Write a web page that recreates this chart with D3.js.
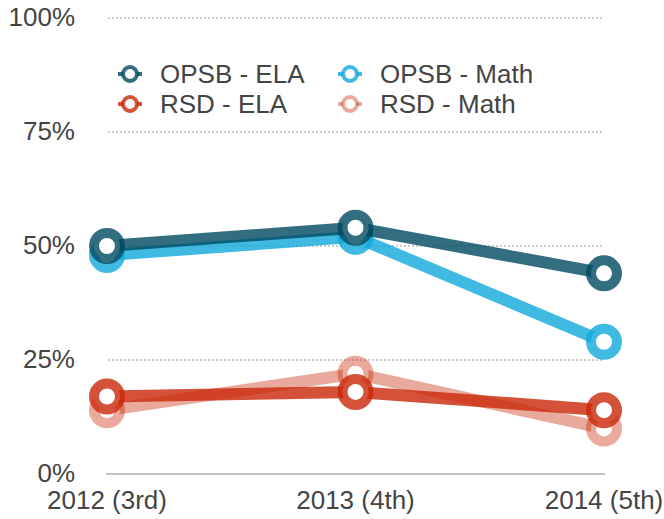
<!DOCTYPE html>
<html>
<head>
<meta charset="utf-8">
<script src="https://cdn.jsdelivr.net/npm/d3@7"></script>
<style>
  body { margin: 0; background: #fff; }
  svg text { font-family: "Helvetica Neue", Helvetica, "Liberation Sans", Arial, sans-serif; fill: #444; font-size: 26px; }
</style>
</head>
<body>
<script>
const width = 664,
	height = 519

// data
const years = ["2012 (3rd)", "2013 (4th)", "2014 (5th)"]
const yTicks = [0, 25, 50, 75, 100]
const opsbEla = [50, 54, 44]
const opsbMath = [48, 52, 29]
const rsdEla = [17, 18, 14]
const rsdMath = [14, 22, 10]

const series = [
	{ name: "RSD - Math", values: rsdMath, color: "#c92707", opacity: 0.4 },
	{ name: "RSD - ELA", values: rsdEla, color: "#c92707", opacity: 0.8 },
	{ name: "OPSB - Math", values: opsbMath, color: "#10a9dc", opacity: 0.8 },
	{ name: "OPSB - ELA", values: opsbEla, color: "#004a60", opacity: 0.8 }
]
const legendOrder = ["OPSB - ELA", "OPSB - Math", "RSD - ELA", "RSD - Math"]

const x = d3.scalePoint().domain(years).range([107, 604])
const y = d3.scaleLinear().domain([0, 100]).range([474, 18])

const svg = d3.select("body")
	.append("svg")
	.attr("width", width)
	.attr("height", height)

// gridlines
svg.append("g")
	.selectAll("line")
	.data(yTicks.filter(d => d > 0))
	.join("line")
	.attr("x1", 108)
	.attr("x2", 602)
	.attr("y1", d => y(d))
	.attr("y2", d => y(d))
	.attr("stroke", "#999")
	.attr("stroke-width", 1)
	.attr("stroke-dasharray", "2,2")

// baseline
svg.append("line")
	.attr("x1", 106)
	.attr("x2", 605)
	.attr("y1", y(0))
	.attr("y2", y(0))
	.attr("stroke", "#888")
	.attr("stroke-width", 1)

// y tick labels
svg.append("g")
	.attr("text-anchor", "end")
	.selectAll("text")
	.data(yTicks)
	.join("text")
	.attr("x", 75)
	.attr("y", d => y(d) + 1)
	.attr("dominant-baseline", "middle")
	.text(d => d + "%")

// x labels
svg.append("g")
	.attr("text-anchor", "middle")
	.selectAll("text")
	.data(years)
	.join("text")
	.attr("x", d => x(d))
	.attr("y", 509)
	.text(d => d)

const line = d3.line()
	.x((d, i) => x(years[i]))
	.y(d => y(d))

const g = svg.selectAll("g.series")
	.data(series)
	.join("g")
	.attr("class", "series")

g.append("path")
	.attr("d", d => line(d.values))
	.attr("fill", "none")
	.attr("stroke", d => d.color)
	.attr("stroke-opacity", d => d.opacity)
	.attr("stroke-width", 12)

g.each(function(s) {
	d3.select(this).selectAll("circle")
		.data(s.values)
		.join("circle")
		.attr("cx", (d, i) => x(years[i]))
		.attr("cy", d => y(d))
		.attr("r", 13)
		.attr("fill", "#fff")
		.attr("stroke", s.color)
		.attr("stroke-opacity", s.opacity)
		.attr("stroke-width", 10)
})

// legend
const legend = svg.append("g")
	.selectAll("g")
	.data(legendOrder.map(n => series.find(s => s.name === n)))
	.join("g")
	.attr("transform", (d, i) => `translate(${i % 2 ? 350 : 130},${i < 2 ? 74 : 104})`)

legend.append("line")
	.attr("x1", -12)
	.attr("x2", 12)
	.attr("stroke", d => d.color)
	.attr("stroke-opacity", d => d.opacity)
	.attr("stroke-width", 4)

legend.append("circle")
	.attr("r", 7)
	.attr("fill", "#fff")
	.attr("stroke", d => d.color)
	.attr("stroke-opacity", d => d.opacity)
	.attr("stroke-width", 4)

legend.append("text")
	.attr("x", 30)
	.attr("y", 9)
	.text(d => d.name)
</script>
</body>
</html>
